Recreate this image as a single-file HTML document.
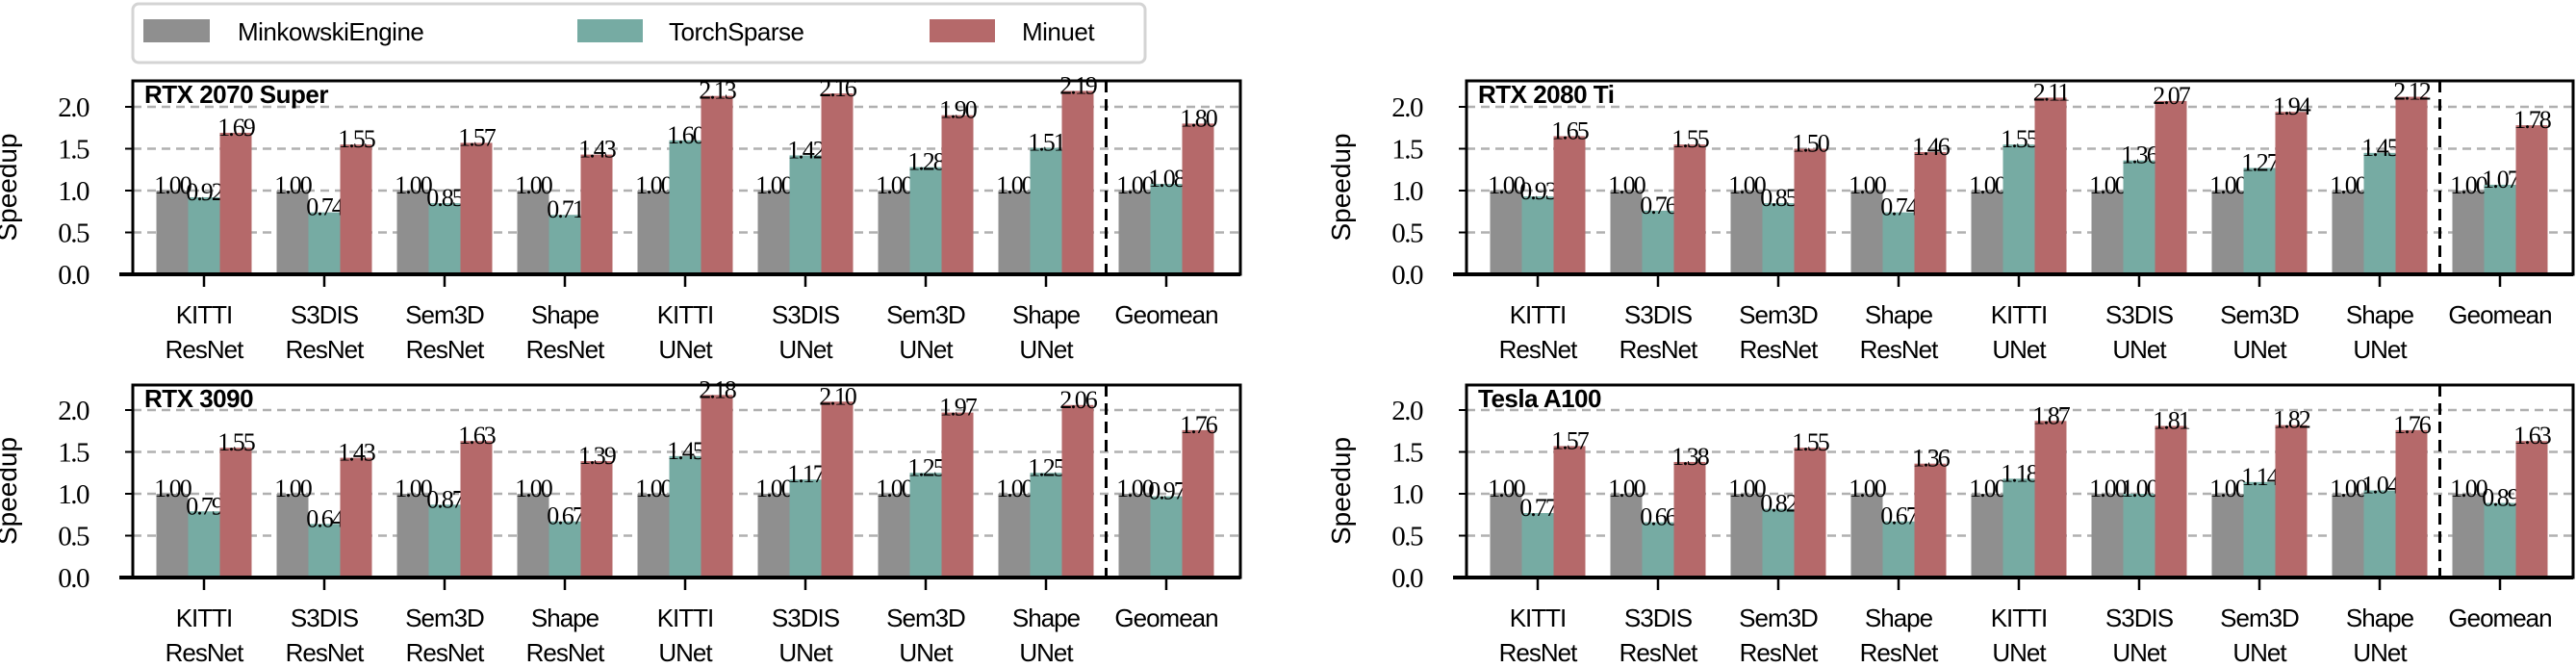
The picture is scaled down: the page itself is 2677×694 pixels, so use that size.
<!DOCTYPE html>
<html><head><meta charset="utf-8"><style>
html,body{margin:0;padding:0;background:#fff;}
svg{display:block;font-family:"Liberation Sans",sans-serif;}
</style></head><body>
<svg id="chart" width="2677" height="694" viewBox="0 0 2677 694" xmlns="http://www.w3.org/2000/svg">
<g>
<rect x="138" y="4" width="1052" height="61" rx="6" fill="#fff" stroke="#d4d4d4" stroke-width="3"/>
<rect x="149" y="20" width="69" height="24" fill="#8f8f8f"/>
<text x="247" y="42" font-size="26" letter-spacing="-0.5">MinkowskiEngine</text>
<rect x="600" y="20" width="68" height="24" fill="#76aba3"/>
<text x="695" y="42" font-size="26" letter-spacing="-0.5">TorchSparse</text>
<rect x="966" y="20" width="68" height="24" fill="#b5696a"/>
<text x="1062" y="42" font-size="26" letter-spacing="-0.5">Minuet</text>
</g>
</svg>
<script>
const categoriesTop = ["KITTI","S3DIS","Sem3D","Shape","KITTI","S3DIS","Sem3D","Shape","Geomean"];
const categoriesBottom = ["ResNet","ResNet","ResNet","ResNet","UNet","UNet","UNet","UNet",""];
const yTicks = [0.0,0.5,1.0,1.5,2.0];
const yTickLabels = ["0.0","0.5","1.0","1.5","2.0"];
const gpuNames = ["RTX 2070 Super","RTX 2080 Ti","RTX 3090","Tesla A100"];
const mkRtx2070 = [1,1,1,1,1,1,1,1,1];
const tsRtx2070 = [0.92,0.74,0.85,0.71,1.60,1.42,1.28,1.51,1.08];
const miRtx2070 = [1.69,1.55,1.57,1.43,2.13,2.16,1.90,2.19,1.80];
const mkRtx2080 = [1,1,1,1,1,1,1,1,1];
const tsRtx2080 = [0.93,0.76,0.85,0.74,1.55,1.36,1.27,1.45,1.07];
const miRtx2080 = [1.65,1.55,1.50,1.46,2.11,2.07,1.94,2.12,1.78];
const mkRtx3090 = [1,1,1,1,1,1,1,1,1];
const tsRtx3090 = [0.79,0.64,0.87,0.67,1.45,1.17,1.25,1.25,0.97];
const miRtx3090 = [1.55,1.43,1.63,1.39,2.18,2.10,1.97,2.06,1.76];
const mkA100 = [1,1,1,1,1,1,1,1,1];
const tsA100 = [0.77,0.66,0.82,0.67,1.18,1.00,1.14,1.04,0.89];
const miA100 = [1.57,1.38,1.55,1.36,1.87,1.81,1.82,1.76,1.63];

const NS="http://www.w3.org/2000/svg";
const svg=document.getElementById('chart');
function mk(tag,attrs,parent){const e=document.createElementNS(NS,tag);for(const k in attrs)e.setAttribute(k,attrs[k]);(parent||svg).appendChild(e);return e;}
const colors=["#8f8f8f","#76aba3","#b5696a"];
const seriesKeys=["minkowski","torchsparse","minuet"];
const panels=[
 {x0:138,x1:1289,top:84,zero:285,series:[mkRtx2070,tsRtx2070,miRtx2070],name:gpuNames[0]},
 {x0:1524,x1:2674,top:84,zero:285,series:[mkRtx2080,tsRtx2080,miRtx2080],name:gpuNames[1]},
 {x0:138,x1:1289,top:400,zero:600,series:[mkRtx3090,tsRtx3090,miRtx3090],name:gpuNames[2]},
 {x0:1524,x1:2674,top:400,zero:600,series:[mkA100,tsA100,miA100],name:gpuNames[3]}
];
const UNIT=87, STEP=125, BW=33;
panels.forEach((p,pi)=>{
 const g=mk('g',{});
 
 
 const y=v=>p.zero-v*UNIT;
 const xc=i=>p.x0+74+i*STEP;
 yTicks.forEach((t,ti)=>{
  if(t>0){const l=mk('line',{x1:p.x0,x2:p.x1,y1:y(t),y2:y(t),stroke:'#b0b0b0','stroke-width':2.5,'stroke-dasharray':'9,6'},g);
   
   }
  const tk=mk('line',{x1:p.x0-8,x2:p.x0,y1:y(t),y2:y(t),stroke:'#000','stroke-width':2},g);
  
  
  const tl=mk('text',{x:p.x0-46,y:y(t)+10,'font-size':29,'text-anchor':'end','font-family':'Liberation Serif, serif','letter-spacing':'-1.5'},g);
  
  
  tl.textContent=yTickLabels[ti];
 });
 const yl=mk('text',{x:0,y:0,'font-size':28,'text-anchor':'middle',transform:`translate(${p.x0-121},${(p.top+p.zero)/2+10}) rotate(-90)`},g);
 
 
 yl.textContent='Speedup';
 categoriesTop.forEach((c,i)=>{
  p.series.forEach((s,si)=>{
   const v=s[i];
   const bx=xc(i)+(si-1)*BW-BW/2;
   const r=mk('rect',{x:bx,y:y(v),width:BW,height:v*UNIT,fill:colors[si]},g);
   
   
   const t=mk('text',{x:bx+BW/2,y:y(v)+3,'font-size':26,'text-anchor':'middle','font-family':'Liberation Serif, serif','letter-spacing':'-2'},g);
   
   
   t.textContent=v.toFixed(2);
  });
  const tk=mk('line',{x1:xc(i),x2:xc(i),y1:p.zero,y2:p.zero+13,stroke:'#000','stroke-width':2.5},g);
  
  
  const l1=mk('text',{x:xc(i),y:p.zero+51,'font-size':26,'text-anchor':'middle','letter-spacing':'-1'},g);
  
  
  l1.textContent=c;
  if(categoriesBottom[i]){
   const l2=mk('text',{x:xc(i),y:p.zero+87,'font-size':26,'text-anchor':'middle','letter-spacing':'-1'},g);
   
   
   l2.textContent=categoriesBottom[i];
  }
 });
 const fr=mk('rect',{x:p.x0,y:p.top,width:p.x1-p.x0,height:p.zero-p.top,fill:'none',stroke:'#000','stroke-width':3},g);
 
 
 const ax=mk('line',{x1:p.x0-14,x2:p.x1,y1:p.zero,y2:p.zero,stroke:'#000','stroke-width':4},g);
 
 
 const dx=xc(7.5);
 const ds=mk('line',{x1:dx,x2:dx,y1:p.top,y2:p.zero,stroke:'#000','stroke-width':3,'stroke-dasharray':'12,7'},g);
 
 
 const tt=mk('text',{x:p.x0+12,y:p.top+23,'font-size':26,'font-weight':'bold','letter-spacing':'-0.5'},g);
 
 
 tt.textContent=p.name;
});
</script>
</body></html>
